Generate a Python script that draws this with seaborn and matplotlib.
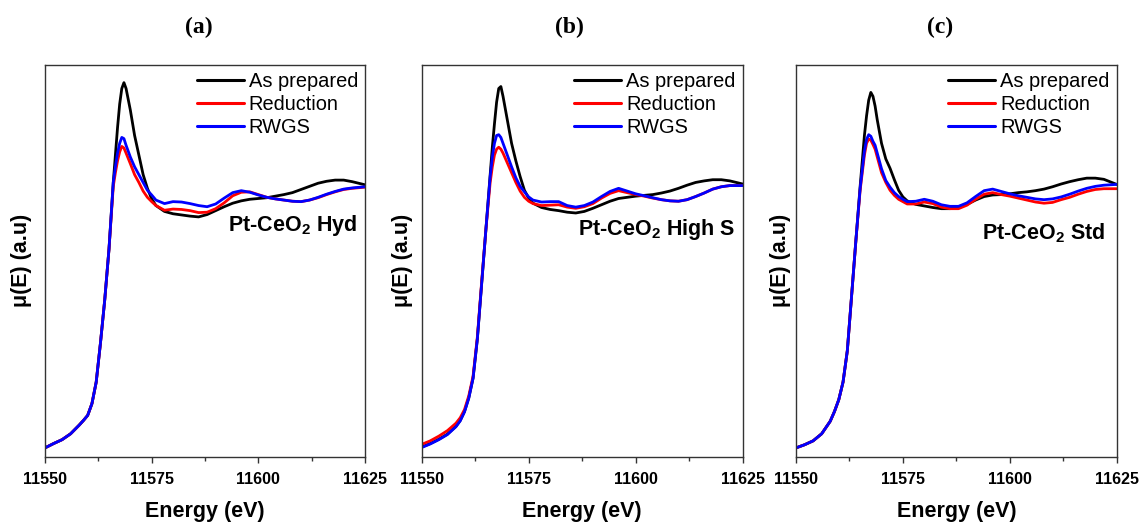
import numpy as np
import pandas as pd
import matplotlib
matplotlib.use("Agg")
import matplotlib.pyplot as plt
import seaborn as sns

# ==========================================
# Data (mu normalised to the axes height)
# ==========================================
energy = [11550, 11552, 11554, 11556, 11558, 11559, 11560, 11561, 11562, 11563,
          11564, 11565, 11566, 11566.5, 11567, 11567.5, 11568, 11568.5, 11569, 11570,
          11571, 11572, 11573, 11574, 11575, 11576, 11578, 11580, 11582, 11584,
          11586, 11588, 11590, 11592, 11594, 11596, 11598, 11600, 11602, 11604,
          11606, 11608, 11610, 11612, 11614, 11616, 11618, 11620, 11622, 11625]

conditions = ["As prepared", "Reduction", "RWGS"]
colors = ["black", "#ff0000", "#0000ff"]
panel_tags = ["(a)", "(b)", "(c)"]
sample_names = [r"Pt-CeO$_\mathbf{2}$ Hyd", r"Pt-CeO$_\mathbf{2}$ High S", r"Pt-CeO$_\mathbf{2}$ Std"]

# panel (a) Hyd
hyd_prepared = [0.022, 0.033, 0.043, 0.058, 0.080, 0.092, 0.105, 0.135, 0.19, 0.29,
                0.40, 0.53, 0.70, 0.77, 0.84, 0.90, 0.94, 0.955, 0.94, 0.885,
                0.82, 0.77, 0.72, 0.685, 0.658, 0.641, 0.626, 0.620, 0.617, 0.614,
                0.612, 0.618, 0.628, 0.638, 0.647, 0.653, 0.657, 0.659, 0.661, 0.665,
                0.669, 0.674, 0.682, 0.690, 0.698, 0.703, 0.706, 0.706, 0.702, 0.694]
hyd_reduction = [0.022, 0.033, 0.043, 0.058, 0.080, 0.092, 0.105, 0.135, 0.19, 0.29,
                 0.40, 0.53, 0.69, 0.725, 0.755, 0.778, 0.792, 0.788, 0.775, 0.748,
                 0.72, 0.70, 0.678, 0.662, 0.651, 0.641, 0.629, 0.632, 0.631, 0.628,
                 0.623, 0.624, 0.633, 0.648, 0.666, 0.675, 0.676, 0.669, 0.662, 0.658,
                 0.655, 0.652, 0.651, 0.655, 0.661, 0.669, 0.676, 0.682, 0.685, 0.688]
hyd_rwgs = [0.022, 0.033, 0.043, 0.058, 0.080, 0.092, 0.105, 0.135, 0.19, 0.29,
            0.40, 0.53, 0.70, 0.74, 0.775, 0.80, 0.815, 0.812, 0.795, 0.765,
            0.74, 0.72, 0.70, 0.68, 0.668, 0.655, 0.646, 0.651, 0.650, 0.646,
            0.641, 0.638, 0.645, 0.660, 0.674, 0.679, 0.675, 0.668, 0.662, 0.658,
            0.655, 0.652, 0.651, 0.655, 0.662, 0.670, 0.677, 0.683, 0.686, 0.689]

# panel (b) High S
highs_prepared = [0.024, 0.033, 0.044, 0.057, 0.077, 0.092, 0.115, 0.15, 0.20, 0.30,
                  0.44, 0.58, 0.72, 0.79, 0.85, 0.905, 0.94, 0.945, 0.92, 0.86,
                  0.80, 0.755, 0.715, 0.68, 0.66, 0.647, 0.636, 0.631, 0.628, 0.624,
                  0.622, 0.626, 0.634, 0.643, 0.652, 0.659, 0.662, 0.665, 0.667, 0.669,
                  0.673, 0.678, 0.685, 0.693, 0.700, 0.704, 0.707, 0.707, 0.704, 0.696]
highs_reduction = [0.031, 0.040, 0.052, 0.066, 0.085, 0.099, 0.12, 0.155, 0.205, 0.305,
                   0.445, 0.58, 0.70, 0.74, 0.77, 0.785, 0.79, 0.785, 0.775, 0.75,
                   0.725, 0.70, 0.678, 0.662, 0.652, 0.646, 0.641, 0.642, 0.643, 0.637,
                   0.634, 0.638, 0.646, 0.660, 0.672, 0.679, 0.674, 0.669, 0.665, 0.660,
                   0.656, 0.653, 0.652, 0.656, 0.664, 0.673, 0.683, 0.689, 0.692, 0.692]
highs_rwgs = [0.023, 0.032, 0.043, 0.056, 0.076, 0.091, 0.114, 0.149, 0.20, 0.30,
              0.44, 0.58, 0.715, 0.765, 0.80, 0.82, 0.822, 0.815, 0.80, 0.77,
              0.74, 0.712, 0.69, 0.676, 0.663, 0.655, 0.650, 0.651, 0.651, 0.641,
              0.637, 0.641, 0.650, 0.664, 0.677, 0.685, 0.678, 0.671, 0.666, 0.661,
              0.656, 0.653, 0.652, 0.656, 0.664, 0.673, 0.683, 0.689, 0.692, 0.692]

# panel (c) Std
std_prepared = [0.022, 0.030, 0.040, 0.058, 0.090, 0.115, 0.145, 0.19, 0.27, 0.41,
                0.551, 0.69, 0.82, 0.87, 0.91, 0.93, 0.92, 0.895, 0.86, 0.80,
                0.76, 0.736, 0.707, 0.680, 0.663, 0.653, 0.644, 0.640, 0.636, 0.633,
                0.633, 0.637, 0.644, 0.655, 0.664, 0.668, 0.669, 0.671, 0.674, 0.676,
                0.679, 0.683, 0.689, 0.696, 0.702, 0.707, 0.711, 0.711, 0.708, 0.695]
std_reduction = [0.022, 0.030, 0.040, 0.058, 0.090, 0.115, 0.145, 0.19, 0.27, 0.41,
                 0.551, 0.68, 0.77, 0.80, 0.811, 0.808, 0.797, 0.785, 0.765, 0.725,
                 0.70, 0.68, 0.667, 0.657, 0.651, 0.645, 0.645, 0.650, 0.646, 0.637,
                 0.633, 0.633, 0.642, 0.657, 0.670, 0.674, 0.669, 0.665, 0.660, 0.655,
                 0.650, 0.647, 0.649, 0.656, 0.662, 0.670, 0.677, 0.682, 0.684, 0.684]
std_rwgs = [0.022, 0.030, 0.040, 0.058, 0.090, 0.115, 0.145, 0.19, 0.27, 0.41,
            0.551, 0.685, 0.78, 0.81, 0.822, 0.818, 0.805, 0.795, 0.775, 0.735,
            0.705, 0.688, 0.674, 0.664, 0.657, 0.651, 0.652, 0.657, 0.652, 0.643,
            0.639, 0.639, 0.648, 0.664, 0.679, 0.683, 0.677, 0.671, 0.666, 0.662,
            0.658, 0.656, 0.658, 0.663, 0.670, 0.678, 0.685, 0.690, 0.693, 0.695]

panels = [
    [hyd_prepared, hyd_reduction, hyd_rwgs],
    [highs_prepared, highs_reduction, highs_rwgs],
    [std_prepared, std_reduction, std_rwgs],
]

# ==========================================
# Style
# ==========================================
sns.set_style("ticks")
plt.rcParams["font.family"] = ["Liberation Sans", "DejaVu Sans"]
plt.rcParams["mathtext.fontset"] = "custom"
plt.rcParams["mathtext.rm"] = "Liberation Sans"
plt.rcParams["mathtext.bf"] = "Liberation Sans:bold"
plt.rcParams["text.color"] = "black"
plt.rcParams["axes.labelcolor"] = "black"
plt.rcParams["xtick.labelcolor"] = "black"

fig = plt.figure(figsize=(11.43, 5.22), dpi=100)

# axes boxes in figure pixels: left, right
boxes = [(45, 365), (421.7, 742.7), (796, 1116.7)]
top_px, bottom_px = 65, 456.5
W, H = 1143, 522
tag_x = [199, 569, 940]
ylabel_x = [-0.040, -0.027, -0.017]
name_pos = [(0.975, 0.59), (0.976, 0.58), (0.963, 0.57)]

for i, series in enumerate(panels):
    l, r = boxes[i]
    ax = fig.add_axes([l / W, (H - bottom_px) / H, (r - l) / W, (bottom_px - top_px) / H])

    df = pd.DataFrame({
        "Energy": np.tile(energy, 3),
        "mu": np.concatenate(series),
        "Condition": np.repeat(conditions, len(energy)),
    })
    sns.lineplot(data=df, x="Energy", y="mu", hue="Condition", hue_order=conditions,
                 palette=colors, linewidth=2.0, estimator=None, sort=False, ax=ax)

    ax.set_xlim(11550, 11625)
    ax.set_ylim(0, 1)
    ax.set_xticks([11550, 11575, 11600, 11625])
    ax.set_xticks([11562.5, 11587.5, 11612.5], minor=True)
    ax.set_yticks([])
    ax.tick_params(axis="x", which="major", direction="out", length=4, width=1,
                   pad=7, labelsize=11.5, color="#333333", labelcolor="black")
    ax.tick_params(axis="x", which="minor", direction="out", length=3, width=1, color="#333333")
    for lab in ax.get_xticklabels():
        lab.set_fontweight("bold")
    for sp in ax.spines.values():
        sp.set_visible(True)
        sp.set_color("#333333")
        sp.set_linewidth(1.0)

    ax.set_xlabel("Energy (eV)", fontsize=15.5, fontweight="bold", labelpad=10)
    ax.set_ylabel("μ(E) (a.u)", fontsize=15.5, fontweight="bold")
    ax.yaxis.set_label_coords(ylabel_x[i], 0.5)

    leg = ax.get_legend()
    handles = leg.legend_handles
    for h, c in zip(handles, colors):
        h.set_linewidth(2.2)
        h.set_color(c)
    ax.legend(handles, conditions, loc="upper right", frameon=False, fontsize=14.4,
              handlelength=2.35, handletextpad=0.25, labelspacing=0.2,
              borderaxespad=0.15, borderpad=0.2)

    nx, ny = name_pos[i]
    ax.text(nx, ny, sample_names[i], transform=ax.transAxes, ha="right", va="center",
            fontsize=15.5, fontweight="bold")

    fig.text(tag_x[i] / W, 1 - 27 / H, panel_tags[i], ha="center", va="center",
             fontsize=17, fontweight="bold", family=["Liberation Serif", "DejaVu Serif"])

fig.savefig("out.png", dpi=100)
